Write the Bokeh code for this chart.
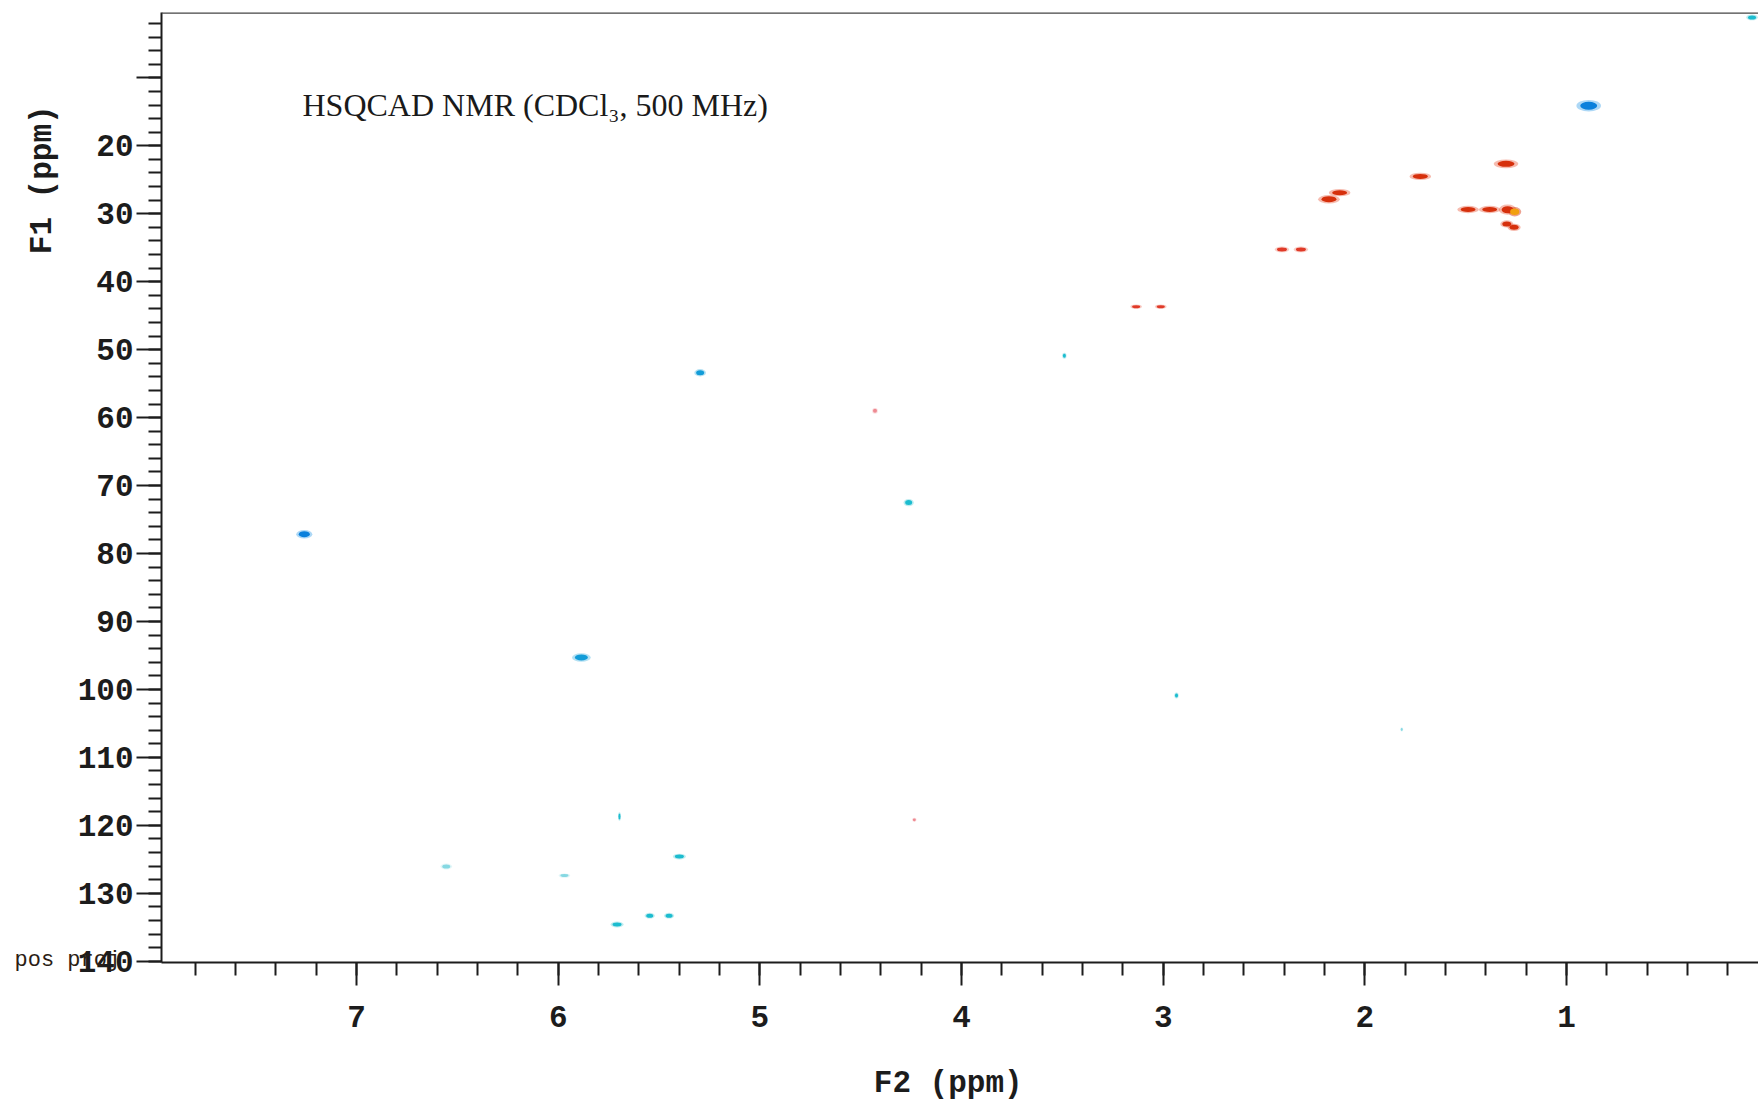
import math
from bokeh.plotting import figure
from bokeh.models import (ColumnDataSource, Range1d, FixedTicker, Label, Span)
from bokeh.embed import file_html
from bokeh.resources import INLINE

# ---------------- data ----------------
# CH2 cross peaks (red, negative phase): F2 = 1H ppm, F1 = 13C ppm
ch2_f2 = [1.300, 1.725, 2.125, 2.178, 1.488, 1.381, 1.292, 1.257, 1.296, 1.260,
          2.411, 2.317, 3.134, 3.012, 4.429, 4.234]
ch2_f1 = [22.65, 24.50, 26.90, 27.86, 29.37, 29.37, 29.40, 29.70, 31.50, 32.00,
          35.25, 35.25, 43.67, 43.67, 59.00, 119.20]
ch2_level = [3, 3, 3, 3, 3, 3, 3, 4, 3, 3, 2, 2, 2, 2, 1, 1]
ch2_lw_f2 = [0.084, 0.074, 0.074, 0.074, 0.074, 0.074, 0.060, 0.045, 0.045, 0.045,
             0.050, 0.050, 0.040, 0.040, 0.020, 0.015]
ch2_lw_f1 = [0.88, 0.74, 0.74, 0.88, 0.74, 0.74, 1.03, 0.95, 0.74, 0.74,
             0.59, 0.59, 0.44, 0.44, 0.59, 0.44]

# CH / CH3 cross peaks (blue / cyan, positive phase)
ch_f2 = [0.890, 0.080, 3.490, 5.296, 7.259, 4.262, 5.885, 2.934, 1.817, 5.696,
         5.399, 6.555, 5.969, 5.546, 5.450, 5.708]
ch_f1 = [14.10, 1.10, 50.90, 53.40, 77.16, 72.50, 95.30, 100.90, 105.90, 118.70,
         124.60, 126.06, 127.40, 133.30, 133.30, 134.60]
ch_level = [4, 2, 2, 3, 4, 2, 3, 2, 1, 2, 2, 1, 1, 2, 2, 2]
ch_lw_f2 = [0.084, 0.040, 0.015, 0.040, 0.055, 0.035, 0.064, 0.015, 0.010, 0.010,
            0.045, 0.040, 0.040, 0.035, 0.035, 0.045]
ch_lw_f1 = [1.18, 0.59, 0.59, 0.74, 0.88, 0.74, 0.88, 0.59, 0.44, 0.88,
            0.59, 0.59, 0.44, 0.59, 0.59, 0.59]

x_major = [1, 2, 3, 4, 5, 6, 7]
y_major = [10, 20, 30, 40, 50, 60, 70, 80, 90, 100, 110, 120, 130, 140]
y_hidden_labels = [10]

title_text = "HSQCAD NMR (CDCl\u2083, 500 MHz)"
xlab = "F2  (ppm)"
ylab = "F1  (ppm)"
proj_text = "pos proj"

# ---------------- styles ----------------
red_core = {4: "#f2a010", 3: "#d6300c", 2: "#e03a28", 1: "#ee8a92"}
red_halo = {4: "#d6300c", 3: "#ec6a50", 2: "#f09080", 1: "#f6b8bc"}
blue_core = {4: "#0a80dc", 3: "#129cd8", 2: "#1cbccf", 1: "#86d8e2"}
blue_halo = {4: "#4aa8ea", 3: "#5cbce4", 2: "#70d4de", 1: "#bfeaf0"}

MONO = "Liberation Mono"
INK = "#1c1c1c"

X0, X1 = 7.967, 0.048
Y0, Y1 = 140.19, 0.38
FRAME_L, FRAME_R, FRAME_T, FRAME_B = 161, 1758, 12, 962
px_per_x = (FRAME_R - FRAME_L) / (X0 - X1)
px_per_y = (FRAME_B - FRAME_T) / (Y0 - Y1)


def cx(px):
    """canvas x pixel -> F2 coordinate"""
    return X0 - (px - FRAME_L) / px_per_x


def cy(py):
    """canvas y pixel -> F1 coordinate"""
    return Y0 - (FRAME_B - py) / px_per_y


p = figure(width=1758, height=1102,
           x_range=Range1d(X0, X1), y_range=Range1d(Y0, Y1),
           output_backend="svg", toolbar_location=None,
           min_border_left=FRAME_L, min_border_right=0,
           min_border_top=FRAME_T, min_border_bottom=1102 - FRAME_B)
p.outline_line_color = None
p.xgrid.visible = False
p.ygrid.visible = False
p.background_fill_color = "white"
p.border_fill_color = "white"


def add_peaks(f2, f1, lw2, lw1, lev, core, halo):
    src_h = ColumnDataSource(dict(
        x=f2, y=f1,
        w=[v * 1.45 for v in lw2], h=[v * 1.45 for v in lw1],
        c=[halo[l] for l in lev]))
    src_c = ColumnDataSource(dict(
        x=f2, y=f1, w=lw2, h=lw1, c=[core[l] for l in lev]))
    p.ellipse(x="x", y="y", width="w", height="h", source=src_h,
              fill_color="c", fill_alpha=0.45, line_color=None)
    p.ellipse(x="x", y="y", width="w", height="h", source=src_c,
              fill_color="c", fill_alpha=1.0, line_color=None)


add_peaks(ch2_f2, ch2_f1, ch2_lw_f2, ch2_lw_f1, ch2_level, red_core, red_halo)
add_peaks(ch_f2, ch_f1, ch_lw_f2, ch_lw_f1, ch_level, blue_core, blue_halo)

# top frame line
p.add_layout(Span(location=Y1, dimension="width", line_color="#444444",
                  line_width=2.5))

# x axis
xa = p.xaxis[0]
xa.ticker = FixedTicker(ticks=x_major,
                        minor_ticks=[round(i * 0.2, 1) for i in range(1, 40)])
xa.axis_line_color = INK
xa.axis_line_width = 2
xa.major_tick_line_color = INK
xa.major_tick_line_width = 2
xa.minor_tick_line_color = INK
xa.minor_tick_line_width = 2
xa.major_tick_in = 0
xa.major_tick_out = 23
xa.minor_tick_in = 0
xa.minor_tick_out = 13
xa.major_label_text_font = MONO
xa.major_label_text_font_style = "bold"
xa.major_label_text_font_size = "31px"
xa.major_label_text_color = INK
xa.major_label_standoff = 20

# y axis
ya = p.yaxis[0]
ya.ticker = FixedTicker(ticks=y_major, minor_ticks=list(range(2, 141, 2)))
ya.major_label_overrides = {v: "" for v in y_hidden_labels}
ya.axis_line_color = INK
ya.axis_line_width = 2
ya.major_tick_line_color = INK
ya.major_tick_line_width = 2
ya.minor_tick_line_color = INK
ya.minor_tick_line_width = 2
ya.major_tick_in = 0
ya.major_tick_out = 25
ya.minor_tick_in = 0
ya.minor_tick_out = 13
ya.major_label_text_font = MONO
ya.major_label_text_font_style = "bold"
ya.major_label_text_font_size = "31px"
ya.major_label_text_color = INK
ya.major_label_standoff = 3

# axis titles (placed in the side panels so that they are not clipped)
p.add_layout(Label(x=cx(42), y=cy(170), x_units="data", y_units="data",
                   text=ylab, angle=math.pi / 2, text_align="center",
                   text_baseline="middle", text_font=MONO,
                   text_font_style="bold", text_font_size="31px",
                   text_color=INK), "left")

p.add_layout(Label(x=cx(957), y=cy(1083), x_units="data", y_units="data",
                   text=xlab, text_align="center",
                   text_baseline="middle", text_font=MONO,
                   text_font_style="bold", text_font_size="31px",
                   text_color=INK), "below")

p.add_layout(Label(x=cx(14), y=cy(960), x_units="data", y_units="data",
                   text=proj_text, text_align="left",
                   text_baseline="alphabetic", text_font=MONO,
                   text_font_size="22px", text_color="#2b1d14"), "below")

# chart annotation inside the frame
p.add_layout(Label(x=302 - FRAME_L, y=FRAME_B - 104, x_units="screen",
                   y_units="screen", text=title_text, text_align="left",
                   text_baseline="alphabetic", text_font="Liberation Serif",
                   text_font_size="32px", text_color="#1a1a1a"))

open("out.html", "w").write(file_html(p, INLINE))
